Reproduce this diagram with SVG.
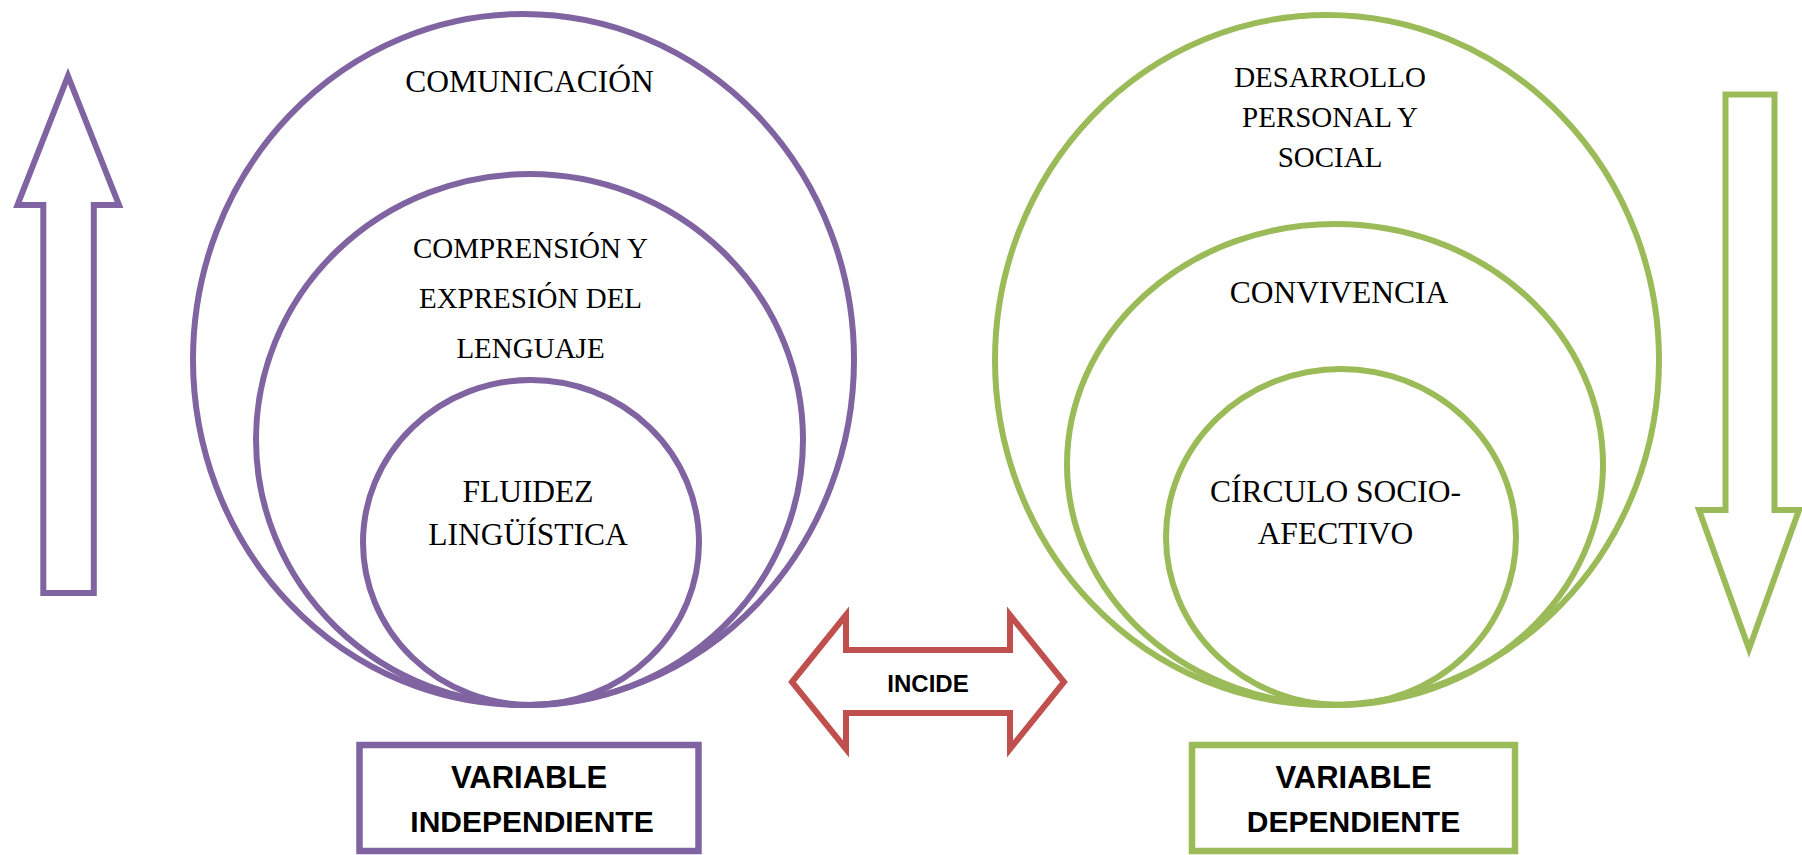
<svg xmlns="http://www.w3.org/2000/svg" width="1802" height="855" viewBox="0 0 1802 855">
<style>
.p{fill:none;stroke:#8064A2;stroke-width:6}
.g{fill:none;stroke:#9BBB59;stroke-width:6}
.r{fill:#fff;stroke:#C0504D;stroke-width:6;stroke-linejoin:miter}
.t{font-family:"Liberation Serif","Times New Roman",serif;fill:#000;text-anchor:middle}
.big{font-size:31.5px}
.sm{font-size:29px}
.b{font-family:"Liberation Sans",Arial,sans-serif;font-weight:bold;fill:#000;text-anchor:middle}
</style>
<rect width="1802" height="855" fill="#fff"/>
<g id="arrow-up">
<polygon class="p" points="68,76 119,205 93.8,205 93.8,593 43.3,593 43.3,205 17.5,205"/>
</g>
<g id="arrow-down">
<polygon class="g" points="1725.5,94.5 1774.5,94.5 1774.5,510 1799,510 1749,649 1699,510 1725.5,510"/>
</g>
<g id="comunicacion">
<ellipse class="p" cx="523.5" cy="359.5" rx="330.5" ry="345.5"/>
<text class="t big" x="529.5" y="92">COMUNICACIÓN</text>
</g>
<g id="comprension">
<ellipse class="p" cx="529.5" cy="439.5" rx="273.5" ry="265.5"/>
<text class="t sm" x="530.5" y="258">COMPRENSIÓN Y</text>
<text class="t sm" x="530.5" y="308">EXPRESIÓN DEL</text>
<text class="t sm" x="530.5" y="358">LENGUAJE</text>
</g>
<g id="fluidez">
<ellipse class="p" cx="531" cy="542.5" rx="168" ry="162.5"/>
<text class="t big" x="528" y="502">FLUIDEZ</text>
<text class="t big" x="528" y="545">LINGÜÍSTICA</text>
</g>
<g id="desarrollo">
<ellipse class="g" cx="1327" cy="360" rx="332" ry="345"/>
<text class="t sm" x="1330" y="87">DESARROLLO</text>
<text class="t sm" x="1330" y="127">PERSONAL Y</text>
<text class="t sm" x="1330" y="167">SOCIAL</text>
</g>
<g id="convivencia">
<ellipse class="g" cx="1335" cy="464.5" rx="268" ry="240.5"/>
<text class="t big" x="1339" y="303">CONVIVENCIA</text>
</g>
<g id="circulo">
<ellipse class="g" cx="1341" cy="537" rx="175" ry="168"/>
<text class="t big" x="1335.5" y="502">CÍRCULO SOCIO-</text>
<text class="t big" x="1335.5" y="544">AFECTIVO</text>
</g>
<g id="connectors">
<polygon class="r" points="792,682 846,615 846,650 1010,650 1010,615 1064,682 1010,749 1010,713 846,713 846,749"/>
<text class="b" x="928" y="692" font-size="24">INCIDE</text>
</g>
<g id="var-independiente">
<rect x="359.5" y="745" width="339" height="106" fill="#fff" stroke="#8064A2" stroke-width="6.5"/>
<text class="b" x="529" y="788" font-size="31">VARIABLE</text>
<text class="b" x="532" y="832" font-size="30">INDEPENDIENTE</text>
</g>
<g id="var-dependiente">
<rect x="1192" y="745" width="323" height="106" fill="#fff" stroke="#9BBB59" stroke-width="6.5"/>
<text class="b" x="1353.5" y="788" font-size="31">VARIABLE</text>
<text class="b" x="1353.5" y="832" font-size="30">DEPENDIENTE</text>
</g>
</svg>
